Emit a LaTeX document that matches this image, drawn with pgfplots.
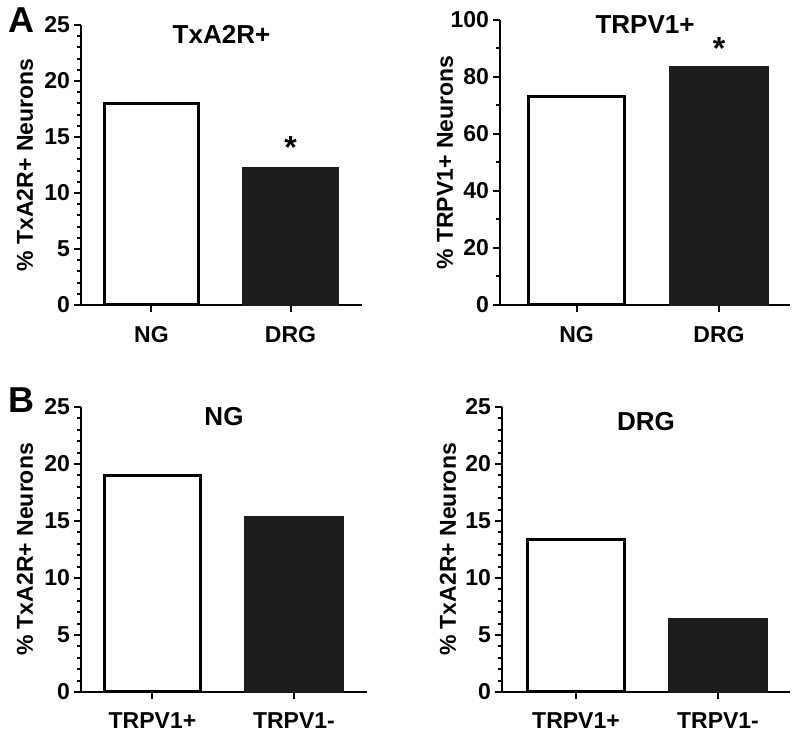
\documentclass[border=0pt]{standalone}
\usepackage{fontspec}
\setmainfont{Liberation Sans}
\usepackage{pgfplots}
\pgfplotsset{compat=1.18}

\definecolor{barblack}{RGB}{30,28,28}

\pgfplotsset{
  panel/.style={
    scale only axis,
    anchor=south west,
    axis x line=bottom, axis y line=left,
    axis line style={-, line width=1pt},
    tick style={line width=1pt, black},
    tick align=outside,
    major tick length=3.5pt, minor tick length=2pt,
    xtick={1,2}, minor x tick num=0,
    ymin=0,
    clip=false,
    /pgf/number format/assume math mode=true,
    tick label style={font=\fontsize{11.5}{13}\selectfont\bfseries},
    yticklabel style={xshift=1.5pt},
    xticklabel style={yshift=-3.5pt},
    ylabel style={font=\fontsize{11.5}{13}\selectfont\bfseries, anchor=center},
    title style={font=\fontsize{13}{15}\selectfont\bfseries, at={(axis description cs:0.5,1)}, anchor=north, inner sep=0pt, yshift=-6pt},
    ybar, bar shift=0pt,
  },
  openbar/.style={draw=black, fill=white, line width=1.5pt},
  fullbar/.style={draw=barblack, fill=barblack, line width=1.5pt},
}

\begin{document}
\begin{tikzpicture}
\path (0,0) rectangle (400pt,369pt);

% A left
\begin{axis}[panel, at={(40.5pt,216.5pt)}, width=140.5pt, height=140pt,
  xmin=0.493, xmax=2.514, bar width=0.676,
  ymax=25, ytick={0,5,...,25}, minor y tick num=4,
  xticklabels={NG,DRG},
  title={TxA2R+},
  ylabel={\% TxA2R+ Neurons},
  ylabel style={at={(axis description cs:-0.199,0.5)}}]
\addplot[openbar] coordinates {(1,18.0)};
\addplot[fullbar] coordinates {(2,12.2)};
\node[anchor=base, inner sep=0pt, yshift=5pt, font=\fontsize{16}{16}\selectfont\bfseries] at (axis cs:2,12.2) {*};
\end{axis}

% A right
\begin{axis}[panel, at={(250pt,216.5pt)}, width=145pt, height=142.5pt,
  xmin=0.463, xmax=2.498, bar width=0.68,
  ymax=100, ytick={0,20,...,100}, minor y tick num=1,
  xticklabels={NG,DRG},
  title={TRPV1+}, title style={yshift=2.5pt},
  ylabel={\% TRPV1+ Neurons},
  ylabel style={at={(axis description cs:-0.19,0.5)}}]
\addplot[openbar] coordinates {(1,73.3)};
\addplot[fullbar] coordinates {(2,83.2)};
\node[anchor=base, inner sep=0pt, yshift=4pt, font=\fontsize{16}{16}\selectfont\bfseries] at (axis cs:2,83.2) {*};
\end{axis}

% B left
\begin{axis}[panel, at={(40.5pt,23pt)}, width=143pt, height=142.5pt,
  xmin=0.495, xmax=2.516, bar width=0.68,
  ymax=25, ytick={0,5,...,25}, minor y tick num=4,
  xticklabels={TRPV1+,TRPV1-},
  title={NG},
  ylabel={\% TxA2R+ Neurons},
  ylabel style={at={(axis description cs:-0.196,0.5)}}]
\addplot[openbar] coordinates {(1,19.0)};
\addplot[fullbar] coordinates {(2,15.35)};
\end{axis}

% B right
\begin{axis}[panel, at={(251pt,23pt)}, width=144pt, height=142.5pt,
  xmin=0.479, xmax=2.507, bar width=0.68,
  ymax=25, ytick={0,5,...,25}, minor y tick num=4,
  xticklabels={TRPV1+,TRPV1-},
  title={DRG}, title style={yshift=-2.5pt},
  ylabel={\% TxA2R+ Neurons},
  ylabel style={at={(axis description cs:-0.1875,0.5)}}]
\addplot[openbar] coordinates {(1,13.4)};
\addplot[fullbar] coordinates {(2,6.4)};
\end{axis}

\node[anchor=base west, inner sep=0pt, font=\fontsize{18}{18}\selectfont\bfseries] at (4pt,352.5pt) {A};
\node[anchor=base west, inner sep=0pt, font=\fontsize{18}{18}\selectfont\bfseries] at (4pt,162.5pt) {B};
\end{tikzpicture}
\end{document}
